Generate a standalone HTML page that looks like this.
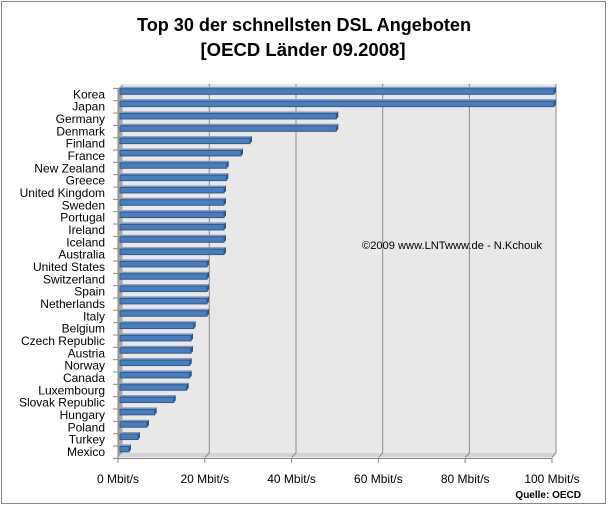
<!DOCTYPE html>
<html><head><meta charset="utf-8"><style>
html,body{margin:0;padding:0;background:#fff;}
svg{display:block;}
text{font-family:"Liberation Sans",Arial,sans-serif;}
</style></head><body>
<svg width="608" height="506" viewBox="0 0 608 506" xmlns="http://www.w3.org/2000/svg">
<rect x="0" y="0" width="608" height="506" fill="#fff"/>
<rect x="1.5" y="1.5" width="604" height="502" fill="#fff" stroke="#868686" stroke-width="1"/>
<text x="304" y="31" font-size="18" font-weight="bold" text-anchor="middle" fill="#000" textLength="334" lengthAdjust="spacingAndGlyphs">Top 30 der schnellsten DSL Angeboten</text>
<text x="303" y="56" font-size="18" font-weight="bold" text-anchor="middle" fill="#000" textLength="205" lengthAdjust="spacingAndGlyphs">[OECD Länder 09.2008]</text>
<!-- back wall -->
<rect x="122.5" y="84" width="433.5" height="369" fill="#e8e8e8"/>
<!-- side wall -->
<polygon points="118,88.5 122.5,84 122.5,453 118,457.5" fill="#a6a6a6"/>
<!-- floor -->
<polygon points="122.5,453 556,453 552,457.5 118,457.5" fill="#d4d4d4"/>
<g stroke="#8c8c8c" stroke-width="1" fill="none">
<polyline points="209.3,84 209.3,453 204.8,457.5"/>
<polyline points="296,84 296,453 291.6,457.5"/>
<polyline points="382.7,84 382.7,453 378.4,457.5"/>
<polyline points="469.4,84 469.4,453 465.2,457.5"/>
<polyline points="556,84 556,453 552,457.5"/>
</g>
<!-- axes -->
<g stroke="#868686" stroke-width="1">
<line x1="118" y1="88" x2="118" y2="458.5"/>
<line x1="118" y1="458.5" x2="552" y2="458.5"/>
<line x1="118" y1="458" x2="118" y2="463"/>
<line x1="204.8" y1="458" x2="204.8" y2="463"/>
<line x1="291.6" y1="458" x2="291.6" y2="463"/>
<line x1="378.4" y1="458" x2="378.4" y2="463"/>
<line x1="465.2" y1="458" x2="465.2" y2="463"/>
<line x1="552" y1="458" x2="552" y2="463"/>
</g>
<g id="ticks" stroke="#868686" stroke-width="1"></g>
<g id="bars"></g>
<g id="labels" font-size="12" fill="#000" text-anchor="end"></g>
<g font-size="12" fill="#000" text-anchor="middle">
<text x="118" y="483">0 Mbit/s</text>
<text x="204.8" y="483">20 Mbit/s</text>
<text x="291.6" y="483">40 Mbit/s</text>
<text x="378.4" y="483">60 Mbit/s</text>
<text x="465.2" y="483">80 Mbit/s</text>
<text x="552" y="483">100 Mbit/s</text>
</g>
<text x="581" y="498" font-size="10" font-weight="bold" text-anchor="end" fill="#000">Quelle: OECD</text>
<text x="362" y="249" font-size="11" fill="#000" textLength="180" lengthAdjust="spacingAndGlyphs">©2009 www.LNTwww.de - N.Kchouk</text>
<script>
var names=["Korea","Japan","Germany","Denmark","Finland","France","New Zealand","Greece","United Kingdom","Sweden","Portugal","Ireland","Iceland","Australia","United States","Switzerland","Spain","Netherlands","Italy","Belgium","Czech Republic","Austria","Norway","Canada","Luxembourg","Slovak Republic","Hungary","Poland","Turkey","Mexico"];
var ends=[556,556,338.3,338.3,252,243,228.7,228.3,226,226,226,226,226,226,209,209,209,209,209,195.7,193,193,191.7,191.7,188.7,175.7,156.7,149,140,131];
var NS="http://www.w3.org/2000/svg";
var bars=document.getElementById("bars"),labels=document.getElementById("labels"),ticks=document.getElementById("ticks");
function el(t,a,p){var e=document.createElementNS(NS,t);for(var k in a)e.setAttribute(k,a[k]);p.appendChild(e);return e;}
for(var k=0;k<=30;k++){var ty=458.3-12.33*k;el("line",{x1:113,y1:ty,x2:118,y2:ty},ticks);}
for(var i=0;i<30;i++){
 var c=91.3+12.33*i,e=ends[i],f=e-2;
 el("polygon",{points:"120,"+(c-2.5)+" 122,"+(c-4.5)+" "+e+","+(c-4.5)+" "+f+","+(c-2.5),fill:"#7a9cc8"},bars);
 el("polygon",{points:f+","+(c-2.5)+" "+e+","+(c-4.5)+" "+e+","+(c+1)+" "+f+","+(c+3),fill:"#2f5584"},bars);
 el("rect",{x:120,y:c-2.5,width:f-120,height:5.5,fill:"#4a7dbb",stroke:"#34598a","stroke-width":1},bars);
 var t=el("text",{x:105,y:98.4+12.33*i},labels);t.textContent=names[i];
}
</script>
</svg>
</body></html>
